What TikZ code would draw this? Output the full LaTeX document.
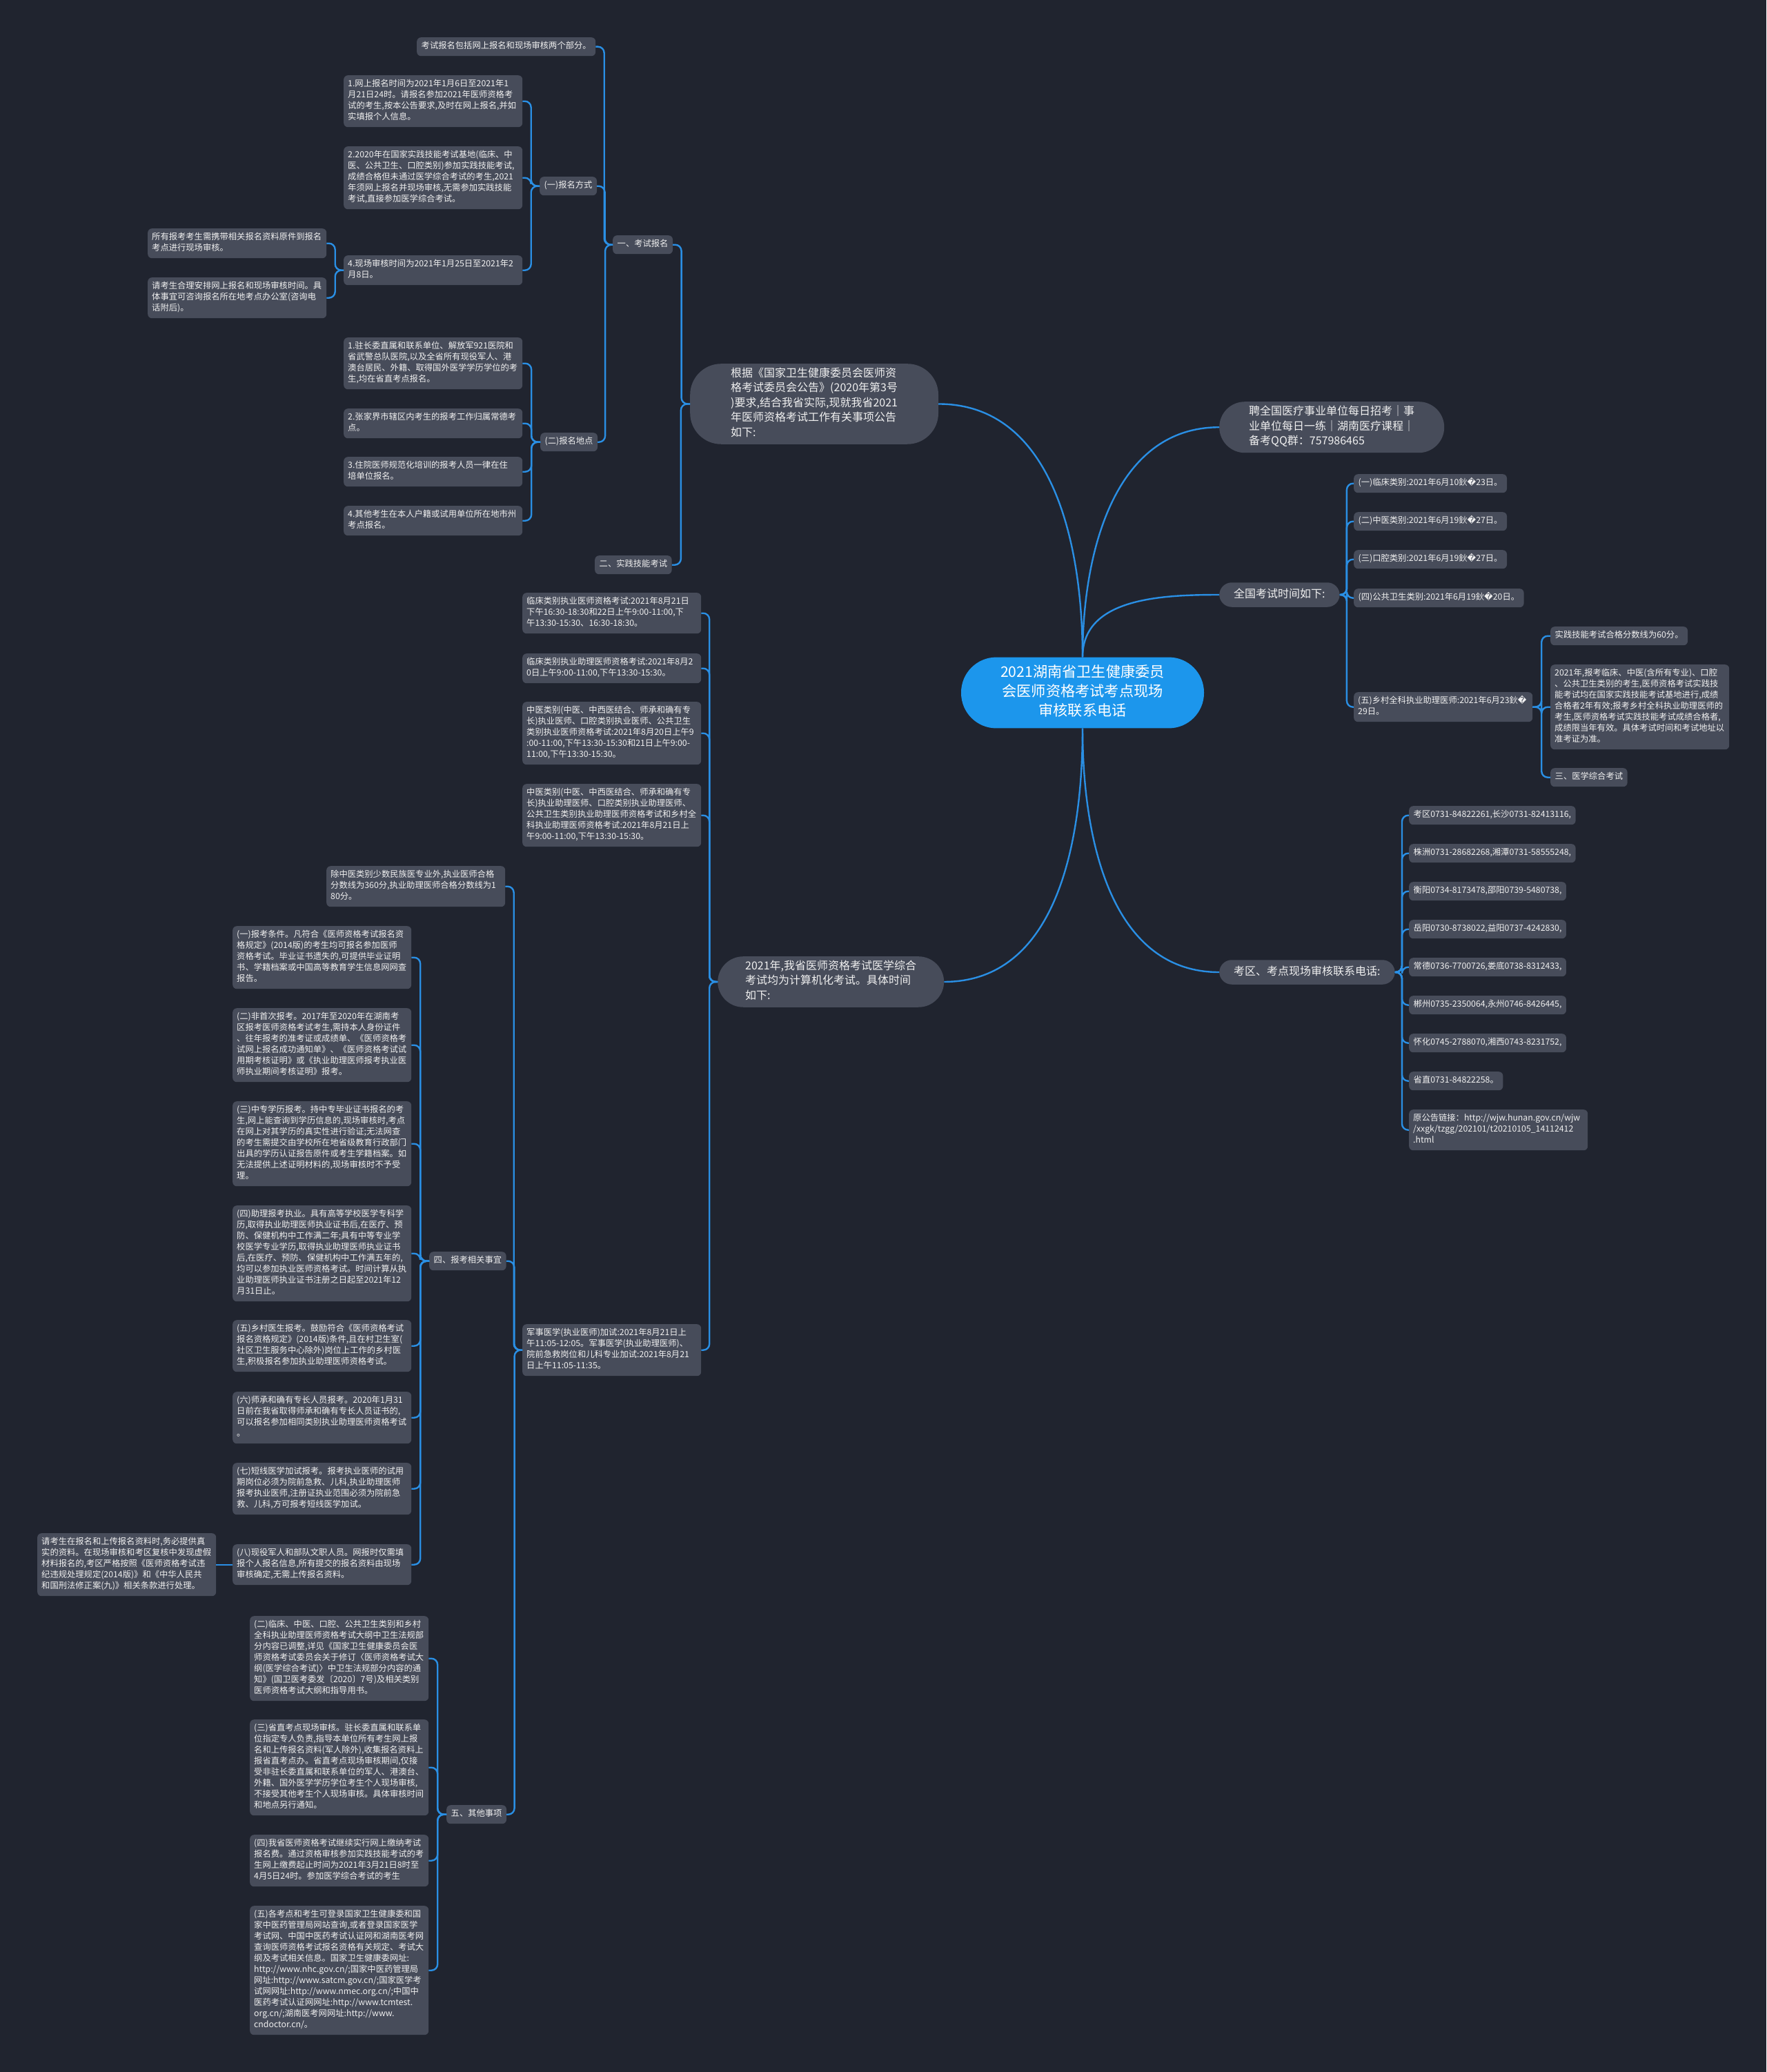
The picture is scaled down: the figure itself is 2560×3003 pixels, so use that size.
\documentclass[tikz,border=0pt]{standalone}
\usepackage{fontspec}
\setmainfont{Noto Sans CJK SC}
\newfontfamily\repfont{DejaVu Sans}
\usepackage{tikz}
\usetikzlibrary{calc}

\definecolor{bgc}{RGB}{32,36,47}
\definecolor{boxc}{RGB}{71,76,90}
\definecolor{linec}{RGB}{42,143,228}
\definecolor{rootc}{RGB}{28,150,236}
\definecolor{txtc}{RGB}{240,240,240}
\newcommand\fsS{\fontsize{12.3}{16}\selectfont}
\newcommand\fsM{\fontsize{16}{21.5}\selectfont}
\newcommand\fsL{\fontsize{21.2}{28.3}\selectfont}
\newcommand\bad{鈥{\repfont\char"FFFD}}

\begin{document}
\begin{tikzpicture}[
  x=1pt, y=-1pt,
  leaf/.style   = {rectangle, fill=boxc, rounded corners=6pt, text=txtc, font=\fsS,
                   align=left, text width=247pt, inner xsep=6pt, inner ysep=5.5pt,
                   anchor=north west, execute at begin node=\strut, execute at end node=\strut},
  tag/.style    = {rectangle, fill=boxc, rounded corners=6pt, text=txtc, font=\fsS,
                   inner xsep=6.5pt, inner ysep=5.5pt, anchor=north west,
                   execute at begin node=\strut},
  branch/.style = {rectangle, fill=boxc, text=txtc, font=\fsM, align=left,
                   inner ysep=5.25pt, anchor=north west,
                   execute at begin node=\strut, execute at end node=\strut},
  root/.style   = {rectangle, fill=rootc, rounded corners=51pt, text=white, font=\fsL,
                   align=center, text width=250pt, inner xsep=51pt, inner ysep=9pt,
                   execute at begin node=\strut, execute at end node=\strut},
  link/.style   = {draw=linec, line width=2.4pt, rounded corners=9pt,
                   to path={-- ($(\tikztostart)!0.5!(\tikztotarget |- \tikztostart)$) |- (\tikztotarget)}},
  curve/.style  = {draw=linec, line width=2.4pt}
]
  \path[fill=bgc, use as bounding box] (0,0) rectangle (2560,3003);

  % centre
  \node[root] (C) at (1569,1004) {2021湖南省卫生健康委员\\会医师资格考试考点现场\\审核联系电话};

  % upper left
  \node[branch, rounded corners=45pt, inner xsep=59pt] (gj) at (1000,527)
        {根据《国家卫生健康委员会医师资\\格考试委员会公告》(2020年第3号\\)要求,结合我省实际,现就我省2021\\年医师资格考试工作有关事项公告\\如下:};
  \node[tag] (ksbm) at (888,341) {一、考试报名};
  \node[tag] (sjjn) at (862,805) {二、实践技能考试};
  \node[tag] (bmbk) at (604,54) {考试报名包括网上报名和现场审核两个部分。};
  \node[tag] (bmfs) at (782,256) {(一)报名方式};
  \node[tag] (bmdd) at (783,627) {(二)报名地点};
  \node[leaf] (wsbm) at (498,109) {1.网上报名时间为2021年1月6日至2021年1\\月21日24时。请报名参加2021年医师资格考\\试的考生,按本公告要求,及时在网上报名,并如\\实填报个人信息。};
  \node[leaf] (jd2020) at (498,212) {2.2020年在国家实践技能考试基地(临床、中\\医、公共卫生、口腔类别)参加实践技能考试,\\成绩合格但未通过医学综合考试的考生,2021\\年须网上报名并现场审核,无需参加实践技能\\考试,直接参加医学综合考试。};
  \node[leaf] (xcsh) at (498,370) {4.现场审核时间为2021年1月25日至2021年2\\月8日。};
  \node[leaf] (sybk) at (214,331) {所有报考考生需携带相关报名资料原件到报名\\考点进行现场审核。};
  \node[leaf] (qkhl) at (214,402) {请考生合理安排网上报名和现场审核时间。具\\体事宜可咨询报名所在地考点办公室(咨询电\\话附后)。};
  \node[leaf] (zcw) at (498,489) {1.驻长委直属和联系单位、解放军921医院和\\省武警总队医院,以及全省所有现役军人、港\\澳台居民、外籍、取得国外医学学历学位的考\\生,均在省直考点报名。};
  \node[leaf] (zjj) at (498,592) {2.张家界市辖区内考生的报考工作归属常德考\\点。};
  \node[leaf] (zy) at (498,662) {3.住院医师规范化培训的报考人员一律在住\\培单位报名。};
  \node[leaf] (qtks) at (498,733) {4.其他考生在本人户籍或试用单位所在地市州\\考点报名。};

  % lower left
  \node[branch, rounded corners=37pt, inner xsep=40pt] (yx) at (1040,1386)
        {2021年,我省医师资格考试医学综合\\考试均为计算机化考试。具体时间\\如下:};
  \node[leaf] (t1) at (757,859) {临床类别执业医师资格考试:2021年8月21日\\下午16:30-18:30和22日上午9:00-11:00,下\\午13:30-15:30、16:30-18:30。};
  \node[leaf] (t2) at (757,947) {临床类别执业助理医师资格考试:2021年8月2\\0日上午9:00-11:00,下午13:30-15:30。};
  \node[leaf] (t3) at (757,1017) {中医类别(中医、中西医结合、师承和确有专\\长)执业医师、口腔类别执业医师、公共卫生\\类别执业医师资格考试:2021年8月20日上午9\\:00-11:00,下午13:30-15:30和21日上午9:00-\\11:00,下午13:30-15:30。};
  \node[leaf] (t4) at (757,1136) {中医类别(中医、中西医结合、师承和确有专\\长)执业助理医师、口腔类别执业助理医师、\\公共卫生类别执业助理医师资格考试和乡村全\\科执业助理医师资格考试:2021年8月21日上\\午9:00-11:00,下午13:30-15:30。};
  \node[leaf] (jsyx) at (757,1919) {军事医学(执业医师)加试:2021年8月21日上\\午11:05-12:05。军事医学(执业助理医师)、\\院前急救岗位和儿科专业加试:2021年8月21\\日上午11:05-11:35。};
  \node[leaf] (czy) at (473,1255) {除中医类别少数民族医专业外,执业医师合格\\分数线为360分,执业助理医师合格分数线为1\\80分。};
  \node[tag] (bkxg) at (622,1814) {四、报考相关事宜};
  \node[tag] (qtsx) at (647,2616) {五、其他事项};

  \node[leaf] (q1) at (337,1342) {(一)报考条件。凡符合《医师资格考试报名资\\格规定》(2014版)的考生均可报名参加医师\\资格考试。毕业证书遗失的,可提供毕业证明\\书、学籍档案或中国高等教育学生信息网网查\\报告。};
  \node[leaf] (q2) at (337,1461) {(二)非首次报考。2017年至2020年在湖南考\\区报考医师资格考试考生,需持本人身份证件\\、往年报考的准考证或成绩单、《医师资格考\\试网上报名成功通知单》、《医师资格考试试\\用期考核证明》或《执业助理医师报考执业医\\师执业期间考核证明》报考。};
  \node[leaf] (q3) at (337,1596) {(三)中专学历报考。持中专毕业证书报名的考\\生,网上能查询到学历信息的,现场审核时,考点\\在网上对其学历的真实性进行验证;无法网查\\的考生需提交由学校所在地省级教育行政部门\\出具的学历认证报告原件或考生学籍档案。如\\无法提供上述证明材料的,现场审核时不予受\\理。};
  \node[leaf] (q4) at (337,1747) {(四)助理报考执业。具有高等学校医学专科学\\历,取得执业助理医师执业证书后,在医疗、预\\防、保健机构中工作满二年;具有中等专业学\\校医学专业学历,取得执业助理医师执业证书\\后,在医疗、预防、保健机构中工作满五年的,\\均可以参加执业医师资格考试。时间计算从执\\业助理医师执业证书注册之日起至2021年12\\月31日止。};
  \node[leaf] (q5) at (337,1913) {(五)乡村医生报考。鼓励符合《医师资格考试\\报名资格规定》(2014版)条件,且在村卫生室(\\社区卫生服务中心除外)岗位上工作的乡村医\\生,积极报名参加执业助理医师资格考试。};
  \node[leaf] (q6) at (337,2017) {(六)师承和确有专长人员报考。2020年1月31\\日前在我省取得师承和确有专长人员证书的,\\可以报名参加相同类别执业助理医师资格考试\\。};
  \node[leaf] (q7) at (337,2120) {(七)短线医学加试报考。报考执业医师的试用\\期岗位必须为院前急救、儿科,执业助理医师\\报考执业医师,注册证执业范围必须为院前急\\救、儿科,方可报考短线医学加试。};
  \node[leaf] (q8) at (337,2238) {(八)现役军人和部队文职人员。网报时仅需填\\报个人报名信息,所有提交的报名资料由现场\\审核确定,无需上传报名资料。};
  \node[leaf] (qkzb) at (54,2222) {请考生在报名和上传报名资料时,务必提供真\\实的资料。在现场审核和考区复核中发现虚假\\材料报名的,考区严格按照《医师资格考试违\\纪违规处理规定(2014版)》和《中华人民共\\和国刑法修正案(九)》相关条款进行处理。};

  \node[leaf] (o2) at (362,2342) {(二)临床、中医、口腔、公共卫生类别和乡村\\全科执业助理医师资格考试大纲中卫生法规部\\分内容已调整,详见《国家卫生健康委员会医\\师资格考试委员会关于修订〈医师资格考试大\\纲(医学综合考试)〉中卫生法规部分内容的通\\知》(国卫医考委发〔2020〕7号)及相关类别\\医师资格考试大纲和指导用书。};
  \node[leaf] (o3) at (362,2492) {(三)省直考点现场审核。驻长委直属和联系单\\位指定专人负责,指导本单位所有考生网上报\\名和上传报名资料(军人除外),收集报名资料上\\报省直考点办。省直考点现场审核期间,仅接\\受非驻长委直属和联系单位的军人、港澳台、\\外籍、国外医学学历学位考生个人现场审核,\\不接受其他考生个人现场审核。具体审核时间\\和地点另行通知。};
  \node[leaf] (o4) at (362,2659) {(四)我省医师资格考试继续实行网上缴纳考试\\报名费。通过资格审核参加实践技能考试的考\\生网上缴费起止时间为2021年3月21日8时至\\4月5日24时。参加医学综合考试的考生};
  \node[leaf] (o5) at (362,2762) {(五)各考点和考生可登录国家卫生健康委和国\\家中医药管理局网站查询,或者登录国家医学\\考试网、中国中医药考试认证网和湖南医考网\\查询医师资格考试报名资格有关规定、考试大\\纲及考试相关信息。国家卫生健康委网址:\\http://www.nhc.gov.cn/;国家中医药管理局\\网址:http://www.satcm.gov.cn/;国家医学考\\试网网址:http://www.nmec.org.cn/;中国中\\医药考试认证网网址:http://www.tcmtest.\\org.cn/;湖南医考网网址:http://www.\\cndoctor.cn/。};

  % right
  \node[branch, rounded corners=37pt, inner xsep=43pt] (pq) at (1767,582)
        {聘全国医疗事业单位每日招考｜事\\业单位每日一练｜湖南医疗课程｜\\备考QQ群：757986465};
  \node[branch, rounded corners=18pt, inner xsep=21pt, inner ysep=7pt, anchor=west] (qg) at (1767,862) {全国考试时间如下:};
  \node[branch, rounded corners=18pt, inner xsep=21pt, inner ysep=7pt, anchor=west] (kq) at (1767,1409) {考区、考点现场审核联系电话:};

  \node[tag] (r1) at (1962,687) {(一)临床类别:2021年6月10\bad23日。};
  \node[tag] (r2) at (1962,742) {(二)中医类别:2021年6月19\bad27日。};
  \node[tag] (r3) at (1962,797) {(三)口腔类别:2021年6月19\bad27日。};
  \node[tag] (r4) at (1962,853) {(四)公共卫生类别:2021年6月19\bad20日。};
  \node[leaf] (r5) at (1962,1003) {(五)乡村全科执业助理医师:2021年6月23\bad\\29日。};
  \node[tag] (r6) at (2247,908) {实践技能考试合格分数线为60分。};
  \node[leaf] (r7) at (2247,963) {2021年,报考临床、中医(含所有专业)、口腔\\、公共卫生类别的考生,医师资格考试实践技\\能考试均在国家实践技能考试基地进行,成绩\\合格者2年有效;报考乡村全科执业助理医师的\\考生,医师资格考试实践技能考试成绩合格者,\\成绩限当年有效。具体考试时间和考试地址以\\准考证为准。};
  \node[tag] (r8) at (2247,1113) {三、医学综合考试};

  \node[tag] (p1) at (2042,1168) {考区0731-84822261,长沙0731-82413116,};
  \node[tag] (p2) at (2042,1223) {株洲0731-28682268,湘潭0731-58555248,};
  \node[tag] (p3) at (2042,1278) {衡阳0734-8173478,邵阳0739-5480738,};
  \node[tag] (p4) at (2042,1333) {岳阳0730-8738022,益阳0737-4242830,};
  \node[tag] (p5) at (2042,1388) {常德0736-7700726,娄底0738-8312433,};
  \node[tag] (p6) at (2042,1443) {郴州0735-2350064,永州0746-8426445,};
  \node[tag] (p7) at (2042,1498) {怀化0745-2788070,湘西0743-8231752,};
  \node[tag] (p8) at (2042,1553) {省直0731-84822258。};
  \node[leaf] (p9) at (2042,1608) {原公告链接：http://wjw.hunan.gov.cn/wjw\\/xxgk/tzgg/202101/t20210105\_14112412\\.html};

  % connectors
  \draw[curve] (C.north) to[out=90, in=0] (gj.east);
  \draw[curve] (C.north) to[out=90, in=180] (pq.west);
  \draw[curve] (C.north) to[out=90, in=180] (qg.west);
  \draw[curve] (C.south) to[out=-90, in=0] (yx.east);
  \draw[curve] (C.south) to[out=-90, in=180] (kq.west);

  \foreach \c in {ksbm,sjjn} \draw[link] (gj.west) to (\c.east);
  \foreach \c in {bmbk,bmfs,bmdd} \draw[link] (ksbm.west) to (\c.east);
  \foreach \c in {wsbm,jd2020,xcsh} \draw[link] (bmfs.west) to (\c.east);
  \foreach \c in {sybk,qkhl} \draw[link] (xcsh.west) to (\c.east);
  \foreach \c in {zcw,zjj,zy,qtks} \draw[link] (bmdd.west) to (\c.east);
  \foreach \c in {t1,t2,t3,t4,jsyx} \draw[link] (yx.west) to (\c.east);
  \foreach \c in {czy,bkxg,qtsx} \draw[link] (jsyx.west) to (\c.east);
  \foreach \i in {1,...,8} \draw[link] (bkxg.west) to (q\i.east);
  \draw[curve] (q8.west) -- (qkzb.east);
  \foreach \i in {2,...,5} \draw[link] (qtsx.west) to (o\i.east);
  \foreach \i in {1,...,5} \draw[link] (qg.east) to (r\i.west);
  \foreach \i in {6,7,8} \draw[link] (r5.east) to (r\i.west);
  \foreach \i in {1,...,9} \draw[link] (kq.east) to (p\i.west);
\end{tikzpicture}
\end{document}
